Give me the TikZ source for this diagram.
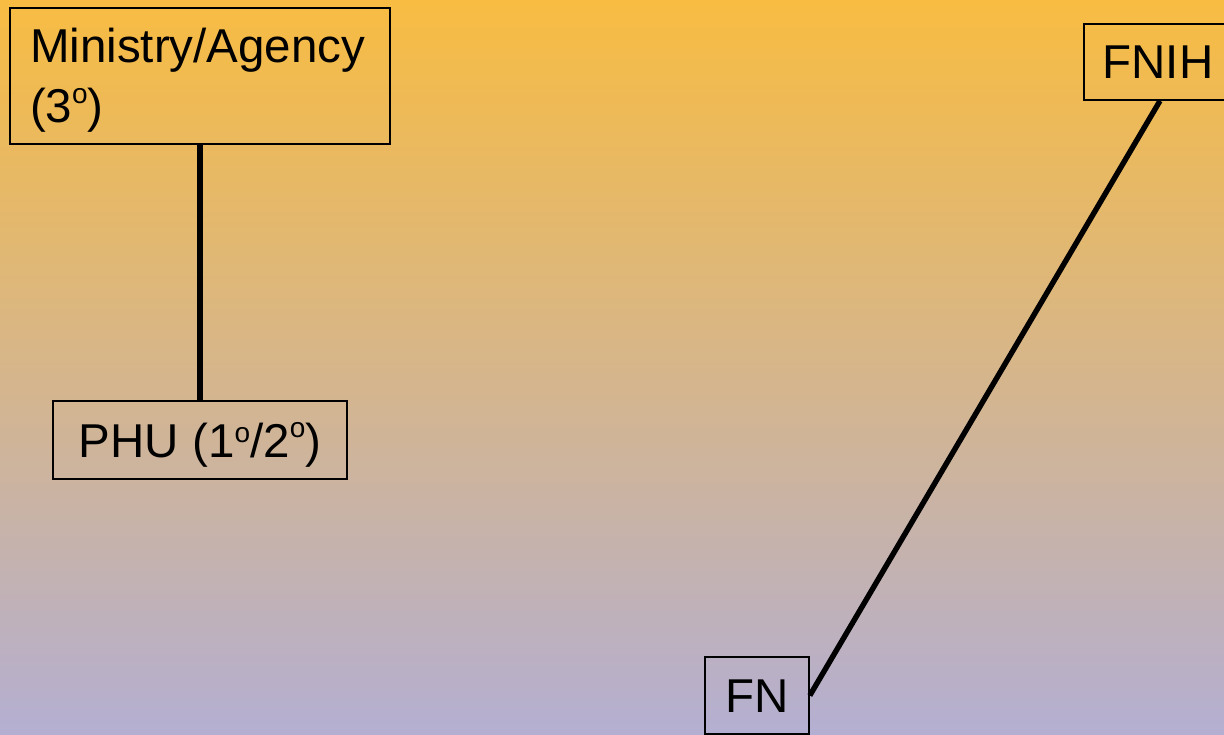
\documentclass[tikz,border=0pt]{standalone}
\usepackage{fontspec}
\setmainfont{Liberation Sans}
\newcommand{\ordo}[1]{\raisebox{#1pt}{\fontsize{28}{28}\selectfont o}}
\begin{document}
\begin{tikzpicture}[x=1pt,y=-1pt,
  box/.style={draw=black, line width=1.6pt, inner sep=0pt, font=\fontsize{47.5}{60}\selectfont},
  single/.style={box, text height=34pt, text depth=0pt},
  link/.style={draw=black, line width=5.4pt}]
  % background
  \shade[top color={rgb,255:red,248;green,188;blue,66},
         middle color={rgb,255:red,224;green,179;blue,150},
         bottom color={rgb,255:red,180;green,175;blue,210}]
    (0,0) rectangle (1224,735);
  \useasboundingbox (0,0) rectangle (1224,735);

  % boxes
  \node[box, minimum width=380pt, minimum height=136pt, text width=340pt, align=left]
    (min) at (200,76) {\rule{0pt}{43pt}Ministry/Agency\\(3\ordo{19})};
  \node[single, minimum width=294pt, minimum height=78pt] (phu) at (200,440)
    {PHU (1\ordo{15}/2\ordo{20})};
  \node[single, minimum width=148pt, minimum height=76pt] (fnih) at (1158,62) {FNIH};
  \node[single, minimum width=104pt, minimum height=77pt] (fn) at (757,695.5) {FN};

  % connectors
  \draw[link] (min.south) -- (phu.north);
  \draw[link] ([xshift=2pt]fnih.south) -- (fn.east);
\end{tikzpicture}
\end{document}
